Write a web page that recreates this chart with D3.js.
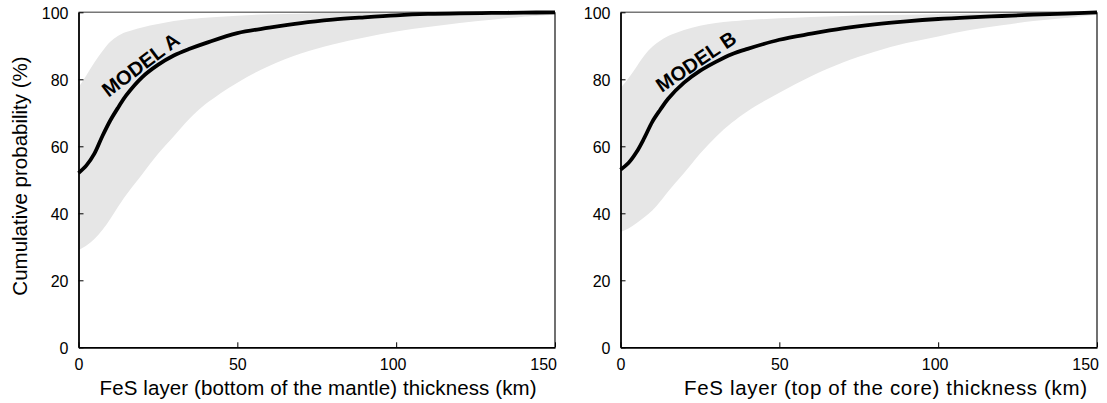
<!DOCTYPE html>
<html>
<head>
<meta charset="utf-8">
<script src="https://cdn.jsdelivr.net/npm/d3@7"></script>
<style>
  html, body { margin: 0; padding: 0; background: #fff; }
  svg { display: block; font-family: "Liberation Sans", Arial, Helvetica, sans-serif; }
</style>
</head>
<body>
<svg id="chart" width="1107" height="403"></svg>
<script>
// FeS layer thickness grid (km)
const thickness = [0, 2.5, 5, 7.5, 10, 12.5, 15, 20, 25, 30, 35, 40, 50, 60, 70, 80, 90, 100, 110, 120, 130, 140, 150];

// Model A: FeS layer at the bottom of the mantle — cumulative probability (%)
const modelAMean  = [52.0, 54.3, 57.8, 63.0, 67.7, 71.6, 75.2, 80.6, 84.3, 87.1, 89.1, 90.8, 93.8, 95.4, 96.8, 97.8, 98.5, 99.1, 99.5, 99.7, 99.8, 99.9, 100];
const modelAUpper = [77.5, 81.2, 85.0, 88.4, 91.2, 93.0, 94.1, 95.5, 96.5, 97.4, 98.0, 98.4, 99.0, 99.4, 99.6, 99.8, 99.85, 99.9, 99.95, 100, 100, 100, 100];
const modelALower = [29.0, 30.4, 32.3, 35.0, 38.3, 42.0, 45.5, 51.6, 57.7, 63.0, 68.3, 72.6, 79.0, 84.0, 87.7, 90.4, 92.5, 94.3, 95.6, 96.8, 97.8, 98.7, 99.3];

// Model B: FeS layer at the top of the core — cumulative probability (%)
const modelBMean  = [53.0, 55.0, 58.2, 62.5, 67.3, 70.9, 74.2, 79.0, 82.5, 85.2, 87.5, 89.1, 91.8, 93.6, 95.2, 96.4, 97.3, 98.0, 98.5, 98.9, 99.3, 99.6, 100];
const modelBUpper = [77.3, 80.3, 83.7, 87.1, 89.7, 91.5, 92.9, 94.7, 96.0, 96.8, 97.3, 97.7, 98.2, 98.6, 98.9, 99.1, 99.3, 99.4, 99.55, 99.7, 99.8, 99.9, 100];
const modelBLower = [34.5, 35.5, 37.0, 38.8, 40.8, 43.5, 46.5, 52.0, 57.8, 62.8, 67.0, 70.5, 76.0, 80.9, 85.0, 88.2, 90.8, 92.8, 94.7, 96.1, 97.4, 98.3, 99.3];

const xTicks = [0, 50, 100, 150];
const yTicks = [0, 20, 40, 60, 80, 100];

const panels = [
  { left: 78.5, label: "MODEL A", xTitle: "FeS layer (bottom of the mantle) thickness (km)",
    mean: modelAMean, upper: modelAUpper, lower: modelALower,
    labelAt: [20.9, 82.7], labelAngle: -37, titleCenter: 318, titleWidth: 437, yTitle: true },
  { left: 620.5, label: "MODEL B", xTitle: "FeS layer (top of the core) thickness (km)",
    mean: modelBMean, upper: modelBUpper, lower: modelBLower,
    labelAt: [25.0, 83.6], labelAngle: -34, titleCenter: 885.5, titleWidth: 403, yTitle: false }
];

const svg = d3.select("#chart");
const plotW = 476.5, plotTop = 12.3, plotBottom = 347.3;
const smooth = d3.curveCatmullRom.alpha(0.5);

panels.forEach(p => {
  const x = d3.scaleLinear().domain([0, 150]).range([p.left, p.left + plotW]);
  const y = d3.scaleLinear().domain([0, 100]).range([plotBottom, plotTop]);
  const g = svg.append("g");

  const rows = thickness.map((t, i) => ({ t, m: p.mean[i], hi: p.upper[i], lo: p.lower[i] }));

  // uncertainty band
  g.append("path")
    .datum(rows)
    .attr("fill", "#e6e6e6")
    .attr("d", d3.area().curve(smooth)
      .x(d => x(d.t)).y0(d => y(d.lo)).y1(d => y(d.hi)));

  // frame: top (grey) and right edges
  g.append("line").attr("x1", x(0)).attr("x2", x(150)).attr("y1", y(100)).attr("y2", y(100))
    .attr("stroke", "#777").attr("stroke-width", 1.5);
  g.append("line").attr("x1", x(150)).attr("x2", x(150)).attr("y1", y(100)).attr("y2", y(0))
    .attr("stroke", "#111").attr("stroke-width", 1.2);

  // mean curve
  g.append("path")
    .datum(rows)
    .attr("fill", "none")
    .attr("stroke", "#000")
    .attr("stroke-width", 3.8)
    .attr("stroke-linejoin", "round")
    .attr("d", d3.line().curve(smooth).x(d => x(d.t)).y(d => y(d.m)));

  // axes with inward ticks
  const xAxis = g.append("g").attr("transform", `translate(0,${plotBottom})`)
    .call(d3.axisBottom(x).tickValues(xTicks).tickSizeInner(-5).tickSizeOuter(0).tickPadding(11));
  const yAxis = g.append("g").attr("transform", `translate(${p.left},0)`)
    .call(d3.axisLeft(y).tickValues(yTicks).tickSizeInner(-5).tickSizeOuter(0).tickPadding(10));

  [xAxis, yAxis].forEach(a => {
    a.select(".domain").attr("stroke", "#000").attr("stroke-width", 1.8);
    a.selectAll(".tick line").attr("stroke", "#000").attr("stroke-width", 1);
    a.selectAll(".tick text").attr("fill", "#000").style("font-size", "16px")
      .style("font-family", "'Liberation Sans', Arial, sans-serif");
  });
  yAxis.selectAll(".tick text").attr("dy", "0.38em");
  // keep the outer x labels inside the frame
  xAxis.selectAll(".tick text").filter(d => d === 100).attr("x", -3.5);
  xAxis.selectAll(".tick text").filter(d => d === 150).attr("text-anchor", "end").attr("x", 1.5);

  // model label along the curve
  const [lx, ly] = p.labelAt;
  g.append("text")
    .attr("transform", `translate(${x(lx)},${y(ly)}) rotate(${p.labelAngle})`)
    .attr("text-anchor", "middle")
    .attr("font-weight", "bold")
    .attr("font-size", 20)
    .attr("fill", "#000")
    .text(p.label);

  // x-axis title
  g.append("text")
    .attr("x", p.titleCenter)
    .attr("y", 395)
    .attr("text-anchor", "middle")
    .attr("font-size", 20.5)
    .attr("textLength", p.titleWidth)
    .attr("lengthAdjust", "spacing")
    .attr("fill", "#000")
    .text(p.xTitle);

  if (p.yTitle) {
    g.append("text")
      .attr("transform", `translate(26.5,176) rotate(-90)`)
      .attr("text-anchor", "middle")
      .attr("font-size", 20.5)
      .attr("fill", "#000")
      .text("Cumulative probability (%)");
  }
});
</script>
</body>
</html>
